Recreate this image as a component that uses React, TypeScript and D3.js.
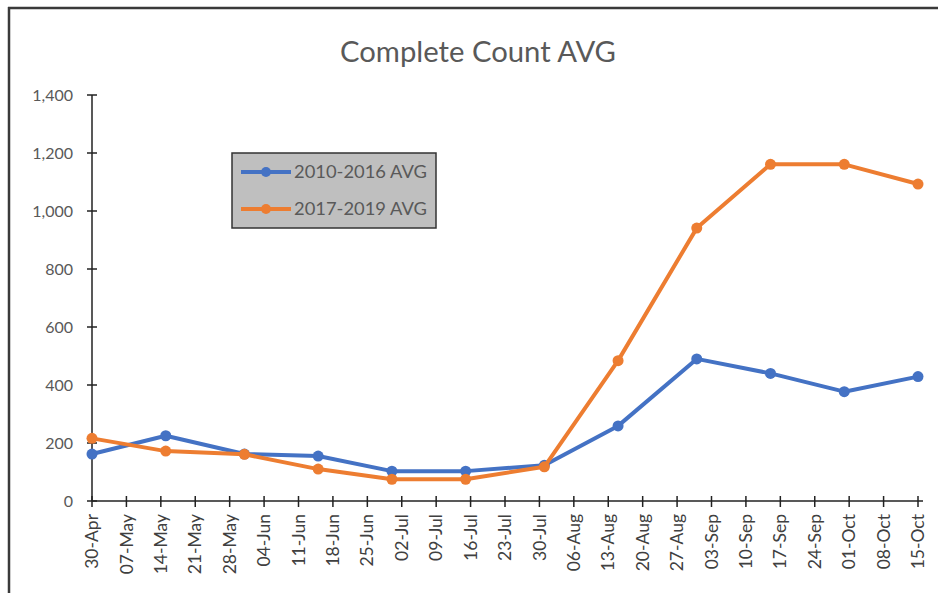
import React from "react";
import * as d3 from "d3";

const tickLabels = ["30-Apr","07-May","14-May","21-May","28-May","04-Jun","11-Jun","18-Jun","25-Jun","02-Jul","09-Jul","16-Jul","23-Jul","30-Jul","06-Aug","13-Aug","20-Aug","27-Aug","03-Sep","10-Sep","17-Sep","24-Sep","01-Oct","08-Oct","15-Oct"];
const pointDates = ["30-Apr","15-May","31-May","15-Jun","30-Jun","15-Jul","31-Jul","15-Aug","31-Aug","15-Sep","30-Sep","15-Oct"];
const series2010_2016 = [162, 225, 162, 155, 103, 103, 123, 259, 490, 440, 377, 429];
const series2017_2019 = [216, 172, 161, 110, 75, 75, 118, 484, 941, 1161, 1161, 1093];
const yTicks = [0, 200, 400, 600, 800, 1000, 1200, 1400];
const seriesNames = ["2010-2016 AVG", "2017-2019 AVG"];
const colors = ["#4472C4", "#ED7D31"];

const parse = d3.timeParse("%d-%b-%Y");
const toDate = (s: string) => parse(s + "-2019") as Date;

export default function App() {
  const W = 938, H = 593;
  const x = d3.scaleTime()
    .domain([toDate(tickLabels[0]), toDate(tickLabels[tickLabels.length - 1])])
    .range([92, 918]);
  const y = d3.scaleLinear().domain([0, 1400]).range([501, 95]);
  const fmt = d3.format(",");
  const line = d3.line<[Date, number]>().x(d => x(d[0])).y(d => y(d[1]));
  const all = [series2010_2016, series2017_2019];
  const textColor = "#595959";
  const font = "Lato, 'Open Sans', sans-serif";

  return (
    <svg width={W} height={H} style={{ position: "absolute", left: 0, top: 0, background: "#fff" }}>
      <rect x={0} y={0} width={W} height={H} fill="#fff" />
      <line x1={8} x2={W} y1={8} y2={8} stroke="#3a3a3a" strokeWidth={2.5} />
      <line x1={9} x2={9} y1={7} y2={H} stroke="#3a3a3a" strokeWidth={2.5} />
      <text x={478} y={62} textAnchor="middle" fontFamily={font} fontSize={29} fill={textColor}
        textLength={276} lengthAdjust="spacingAndGlyphs">Complete Count AVG</text>

      {/* y axis */}
      <line x1={x.range()[0]} x2={x.range()[0]} y1={y(1400)} y2={y(0)} stroke="#222" strokeWidth={1.5} />
      {yTicks.map(t => (
        <g key={t}>
          <line x1={87} x2={97} y1={y(t)} y2={y(t)} stroke="#222" strokeWidth={1.5} />
          <text x={73} y={y(t)} dy="0.35em" textAnchor="end" fontFamily={font} fontSize={16} fill={textColor}>{fmt(t)}</text>
        </g>
      ))}
      {/* x axis */}
      <line x1={x.range()[0]} x2={923} y1={y(0)} y2={y(0)} stroke="#222" strokeWidth={1.5} />
      {tickLabels.map(l => {
        const px = x(toDate(l));
        return (
          <g key={l}>
            <line x1={px} x2={px} y1={y(0) - 5} y2={y(0) + 6} stroke="#222" strokeWidth={1.5} />
            <text transform={`translate(${px},${514}) rotate(-90)`} dy="0.35em" textAnchor="end"
              fontFamily={font} fontSize={17.5} fill="#404040">{l}</text>
          </g>
        );
      })}

      {/* series */}
      {all.map((vals, i) => {
        const pts: [Date, number][] = pointDates.map((d, j) => [toDate(d), vals[j]]);
        return (
          <g key={i}>
            <path d={line(pts) || ""} fill="none" stroke={colors[i]} strokeWidth={4} strokeLinejoin="round" />
            {pts.map((p, j) => (
              <circle key={j} cx={x(p[0])} cy={y(p[1])} r={5.5} fill={colors[i]} />
            ))}
          </g>
        );
      })}

      {/* legend */}
      <rect x={232} y={153} width={204} height={75} fill="#bfbfbf" stroke="#333" strokeWidth={1.5} />
      {seriesNames.map((n, i) => {
        const cy = 172 + i * 37;
        return (
          <g key={n}>
            <line x1={241} x2={291} y1={cy} y2={cy} stroke={colors[i]} strokeWidth={4} />
            <circle cx={266} cy={cy} r={5} fill={colors[i]} />
            <text x={294} y={cy} dy="0.35em" fontFamily={font} fontSize={17} fill={textColor}
              textLength={133} lengthAdjust="spacingAndGlyphs">{n}</text>
          </g>
        );
      })}
    </svg>
  );
}
